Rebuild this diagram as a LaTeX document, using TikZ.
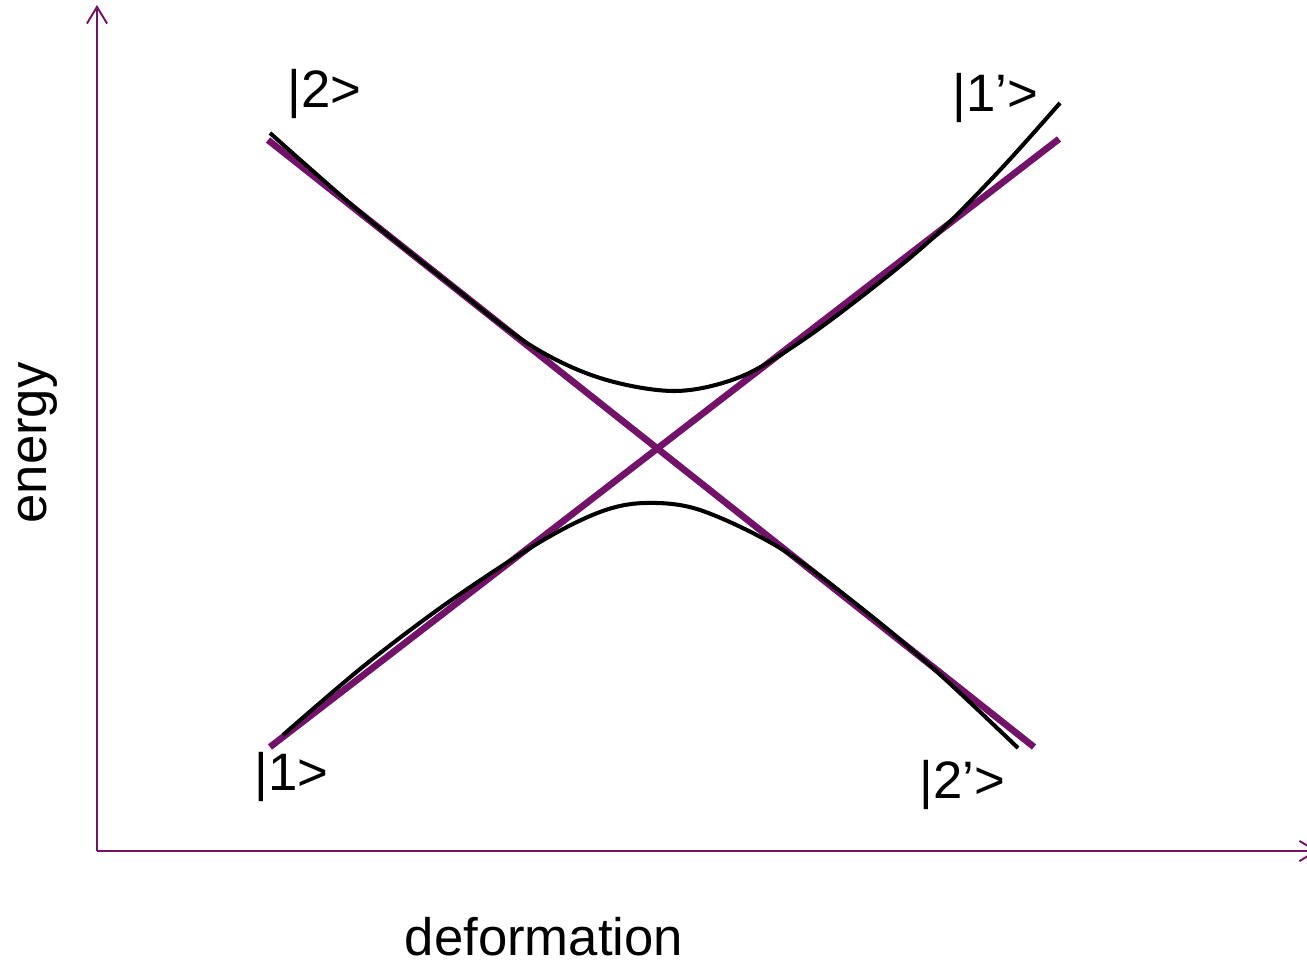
\documentclass[tikz,border=0pt]{standalone}
\usepackage{fontspec}
\setmainfont{Liberation Sans}
\usetikzlibrary{arrows.meta}
\definecolor{plum}{RGB}{115,18,105}
\begin{document}
\begin{tikzpicture}[x=0.02cm,y=-0.02cm,
  axis/.style={draw=plum,line width=1.1pt,-{Straight Barb[length=9.5pt,width=11.5pt,line width=1.1pt]}},
  diab/.style={draw=plum,line width=3.8pt},
  adiab/.style={draw=black,line width=2.3pt},
  txt/.style={font=\fontsize{30}{32}\selectfont,inner sep=0pt},
  lbl/.style={txt,anchor=base west}]
\useasboundingbox (0,0) rectangle (1307,966);
\coordinate (o) at (97,851);
\coordinate (ytop) at (97,5);
\coordinate (xend) at (1318,851);
\draw[axis] (o) -- (ytop);
\draw[axis] (o) -- (xend);
\coordinate (a1) at (268,140);
\coordinate (a2) at (1034,747);
\coordinate (b1) at (270,747);
\coordinate (b2) at (1059,139);
\draw[diab] (a1) -- (a2);
\draw[diab] (b1) -- (b2);
\draw[adiab] plot[smooth,tension=0.55] coordinates {(270,133) (360,212) (450,284) (530,345) (600,378) (675,391) (740,377) (800,342) (870,290) (935,236) (1000,170) (1060,103)};
\draw[adiab] plot[smooth,tension=0.55] coordinates {(283,735) (365,665) (450,601) (540,542) (600,512) (645,503) (700,510) (780,548) (860,607) (935,670) (1018,748)};
\node[lbl] (l2) at (287,108) {|2>};
\node[lbl] (l1p) at (952,112) {|1’>};
\node[lbl] (l1) at (254,790) {|1>};
\node[lbl] (l2p) at (919,798) {|2’>};
\node[txt,anchor=base] (xl) at (544,955) {deformation};
\node[txt,anchor=base,rotate=90] (yl) at (46,443) {energy};
\end{tikzpicture}
\end{document}
